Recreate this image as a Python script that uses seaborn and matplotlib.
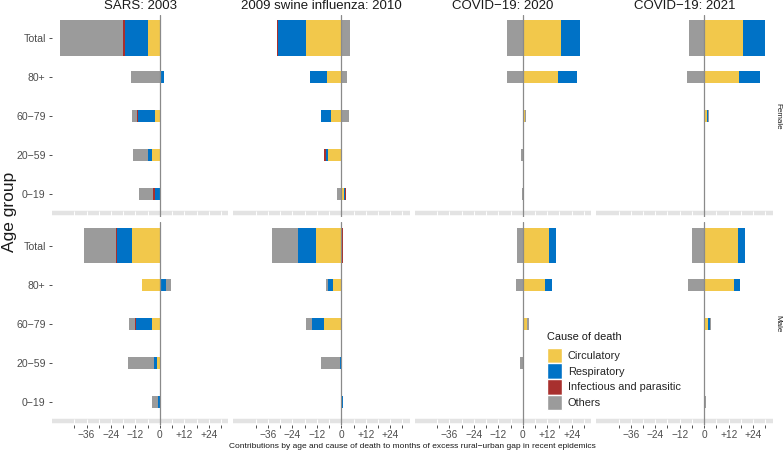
import matplotlib
matplotlib.use("Agg")
import matplotlib.pyplot as plt
from matplotlib.patches import Patch
import seaborn as sns
import pandas as pd
import numpy as np

sns.set_theme(style="white")
plt.rcParams['font.family'] = ['Liberation Sans', 'DejaVu Sans']

age_groups = ["Total", "80+", "60−79", "20−59", "0−19"]
causes = ["Circulatory", "Respiratory", "Infectious and parasitic", "Others"]
cause_colors = ["#F2C84B", "#0072C6", "#A8302E", "#9B9B9B"]
epidemics = ["SARS: 2003", "2009 swine influenza: 2010", "COVID−19: 2020", "COVID−19: 2021"]
sexes = ["Female", "Male"]

# rows follow age_groups, columns follow causes (months of excess gap)
sars_female = [[-5.6, -11.3, -1.1, -31.0],
               [0.6, 1.2, 0.0, -14.2],
               [-2.5, -8.3, -0.4, -2.3],
               [-4.1, -1.5, -0.2, -7.5],
               [0.0, -2.5, -1.0, -6.9]]
sars_male = [[-13.9, -7.2, -0.2, -15.7],
             [-8.7, 2.9, 0.0, 2.8],
             [-4.1, -7.8, -0.3, -2.8],
             [-1.3, -1.5, 0.0, -12.6],
             [0.0, -0.8, 0.0, -3.3]]
swine_female = [[-17.5, -13.6, -0.6, 4.2],
                [-6.9, -8.5, 0.0, 2.9],
                [-5.2, -4.9, 0.0, 3.6],
                [-6.4, -1.0, -1.0, 0.0],
                [1.2, 0.7, 0.6, -2.1]]
swine_male = [[-12.4, -8.7, 0.6, -12.7],
              [-4.1, -2.5, 0.0, -0.7],
              [-8.3, -5.9, 0.0, -3.3],
              [0.0, -0.4, 0.0, -9.8],
              [0.0, 0.7, 0.0, 0.3]]
covid20_female = [[18.6, 9.5, 0.0, -7.5],
                  [17.5, 9.3, 0.0, -7.5],
                  [1.3, 0.0, 0.0, 0.3],
                  [0.0, 0.0, 0.0, -1.0],
                  [0.0, 0.0, 0.0, -0.2]]
covid20_male = [[12.9, 3.4, 0.0, -2.9],
                [11.1, 3.1, 0.0, -3.3],
                [2.0, 0.0, 0.0, 1.0],
                [0.0, 0.0, 0.0, -1.3],
                [0.0, 0.0, 0.0, 0.1]]
covid21_female = [[19.1, 10.6, 0.0, -7.2],
                  [17.0, 10.3, 0.0, -8.3],
                  [1.5, 0.6, 0.0, 0.5],
                  [0.0, 0.0, 0.0, 0.0],
                  [0.0, 0.0, 0.0, 0.6]]
covid21_male = [[16.7, 3.3, 0.0, -5.9],
                [14.5, 2.9, 0.0, -7.8],
                [2.0, 0.7, 0.0, 0.7],
                [0.0, 0.0, 0.0, 0.0],
                [0.0, 0.0, 0.0, 0.7]]

panels = {
    ("SARS: 2003", "Female"): sars_female,
    ("SARS: 2003", "Male"): sars_male,
    ("2009 swine influenza: 2010", "Female"): swine_female,
    ("2009 swine influenza: 2010", "Male"): swine_male,
    ("COVID−19: 2020", "Female"): covid20_female,
    ("COVID−19: 2020", "Male"): covid20_male,
    ("COVID−19: 2021", "Female"): covid21_female,
    ("COVID−19: 2021", "Male"): covid21_male,
}

# long table of raw values
records = []
for (epi, sex), table in panels.items():
    for age, row in zip(age_groups, table):
        for cause, v in zip(causes, row):
            records.append((epi, sex, age, cause, v))
df = pd.DataFrame(records, columns=["epidemic", "sex", "age", "cause", "value"])

# stacked bars via cumulative sums, drawn outermost first
hue_order = [s + c for c in causes[::-1] for s in ("neg ", "pos ")]
palette = {s + c: col for c, col in zip(causes, cause_colors) for s in ("neg ", "pos ")}


def stack_layers(sub):
    layers = []
    for age in age_groups:
        vals = sub[sub.age == age].set_index("cause").loc[causes, "value"].to_numpy()
        neg = np.cumsum(np.minimum(vals, 0))
        pos = np.cumsum(np.maximum(vals, 0))
        for k, c in enumerate(causes):
            layers.append((age, "neg " + c, neg[k]))
            layers.append((age, "pos " + c, pos[k]))
    return pd.DataFrame(layers, columns=["age", "layer", "value"])


all_layers = {key: stack_layers(df[(df.epidemic == key[0]) & (df.sex == key[1])]) for key in panels}
lo = min(l.value.min() for l in all_layers.values())
hi = max(l.value.max() for l in all_layers.values())
pad = 0.05 * (hi - lo)
xlim = (lo - pad, hi + pad)

xticks = np.arange(-42, 31, 6)
xlabels = []
for t in xticks:
    if t % 12 == 0 and -36 <= t <= 24:
        xlabels.append("0" if t == 0 else ("+%d" % t if t > 0 else "−%d" % -t))
    else:
        xlabels.append("")

fig, axes = plt.subplots(2, 4, figsize=(7.84, 4.51), dpi=100)
fig.subplots_adjust(left=52 / 784, right=772.7 / 784, top=1 - 14.6 / 451,
                    bottom=1 - 425.1 / 451, wspace=5 / 176, hspace=5 / 202.8)

for i, sex in enumerate(sexes):
    for j, epi in enumerate(epidemics):
        ax = axes[i, j]
        lay = all_layers[(epi, sex)]
        for rows, w in ((["Total"], 0.9), (age_groups[1:], 0.3)):
            sns.barplot(data=lay[lay.age.isin(rows)], x="value", y="age", hue="layer",
                        order=age_groups, hue_order=hue_order, palette=palette,
                        dodge=False, width=w, orient="h", errorbar=None,
                        saturation=1, legend=False, linewidth=0, ax=ax)
        ax.set_xlim(*xlim)
        ax.set_ylim(4.6, -0.6)
        ax.axvline(0, color="#8a8a8a", lw=0.9, zorder=5)
        ax.axhline(4.5, color="#e3e3e3", lw=3.2, zorder=0)
        ax.vlines(xticks, 4.44, 4.56, color="white", lw=0.7, zorder=1)
        ax.set_xlabel("")
        ax.set_ylabel("")
        for sp in ax.spines.values():
            sp.set_visible(False)
        ax.set_xticks(xticks)
        ax.set_xticklabels(xlabels)
        if i == 1:
            ax.tick_params(axis="x", bottom=True, length=2.5, width=0.6, color="#333333",
                           labelsize=7.3, labelcolor="#4d4d4d", pad=1)
        else:
            ax.tick_params(axis="x", bottom=False, labelbottom=False)
        if j == 0:
            ax.tick_params(axis="y", left=True, length=2.5, width=0.6, color="#333333",
                           labelsize=7.6, labelcolor="#4d4d4d", pad=2)
        else:
            ax.tick_params(axis="y", left=False, labelleft=False)
        if i == 0:
            ax.text(0.5, 1.042, epi, transform=ax.transAxes, ha="center", va="center",
                    fontsize=9.5, color="#1a1a1a")
        if j == 3:
            ax.text(1.03, 0.5, sex, transform=ax.transAxes, ha="center", va="center",
                    rotation=270, fontsize=5.8, color="#1a1a1a")

fig.text(10 / 784, 0.53, "Age group", rotation=90, ha="center", va="center",
         fontsize=12.5, color="#1a1a1a")
fig.text(412 / 784, 1 - 446 / 451,
         "Contributions by age and cause of death to months of excess rural−urban gap in recent epidemics",
         ha="center", va="center", fontsize=6, color="#1a1a1a")

# legend: title placed by hand, keys below it
fig.text(547 / 784, 1 - 337 / 451, "Cause of death", ha="left", va="center",
         fontsize=7.9, color="#1a1a1a")
handles = [Patch(facecolor=c, edgecolor="white", label=l) for c, l in zip(cause_colors, causes)]
fig.legend(handles=handles, loc="upper left", bbox_to_anchor=(547 / 784, 1 - 347.5 / 451),
           frameon=False, fontsize=7.9,
           handlelength=1.39, handleheight=1.76, labelspacing=0.06, handletextpad=0.5,
           borderpad=0, borderaxespad=0)

fig.savefig("out.png", dpi=100)
